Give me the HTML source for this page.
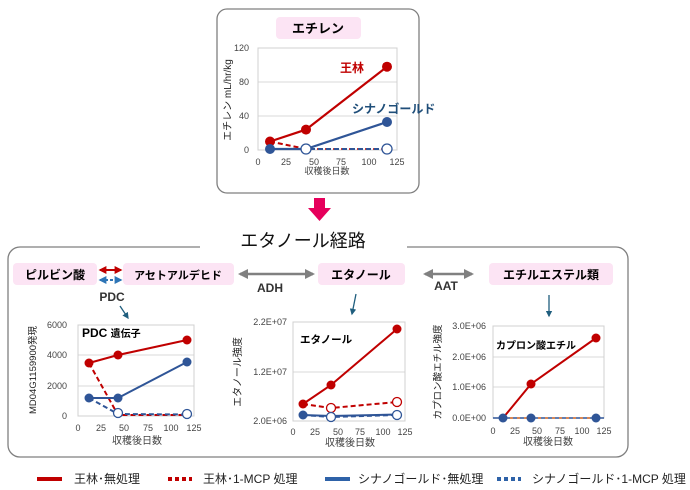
<!DOCTYPE html>
<html><head><meta charset="utf-8"><style>
body{margin:0;background:#fff}
svg{display:block;font-family:"Liberation Sans","Noto Sans CJK JP",sans-serif}
.t{font-size:9px;fill:#444}
.b{font-weight:bold}
</style></head><body>
<svg width="690" height="490" viewBox="0 0 690 490">
<defs>
<marker id="ga" viewBox="0 0 10 10" refX="8" refY="5" markerWidth="4" markerHeight="4" orient="auto-start-reverse"><path d="M0,0L10,5L0,10z" fill="#808080"/></marker>
<marker id="ra" viewBox="0 0 10 10" refX="8" refY="5" markerWidth="4" markerHeight="4" orient="auto-start-reverse"><path d="M0,0L10,5L0,10z" fill="#C00000"/></marker>
<marker id="ba" viewBox="0 0 10 10" refX="8" refY="5" markerWidth="4" markerHeight="4" orient="auto-start-reverse"><path d="M0,0L10,5L0,10z" fill="#2E75B6"/></marker>
<marker id="ta" viewBox="0 0 10 10" refX="8" refY="5" markerWidth="5" markerHeight="5" orient="auto"><path d="M0,0L10,5L0,10z" fill="#1F5E7E"/></marker>
</defs>

<rect x="217" y="9" width="202" height="184" rx="10" fill="#fff" stroke="#7f7f7f" stroke-width="1.3"/>
<rect x="276" y="17" width="85" height="22" rx="4" fill="#FCE4F4"/>
<text x="318" y="33" text-anchor="middle" font-size="13" class="b">エチレン</text>
<g stroke="#d9d9d9" stroke-width="1"><line x1="258" y1="82" x2="397" y2="82"/><line x1="258" y1="116" x2="397" y2="116"/></g>
<rect x="258" y="48" width="139" height="102" fill="none" stroke="#d0d0d0"/>
<g class="t" text-anchor="end"><text x="249" y="51">120</text><text x="249" y="85">80</text><text x="249" y="119">40</text><text x="249" y="153">0</text></g>
<g class="t" text-anchor="middle"><text x="258" y="165">0</text><text x="286" y="165">25</text><text x="314" y="165">50</text><text x="341" y="165">75</text><text x="369" y="165">100</text><text x="397" y="165">125</text>
<text x="327" y="174">収穫後日数</text></g>
<text transform="translate(231,100) rotate(-90)" text-anchor="middle" font-size="10" fill="#222">エチレン  mL/hr/kg</text>
<polyline points="270,141.5 306,149 387,149" fill="none" stroke="#C00000" stroke-width="2" stroke-dasharray="5,3"/>
<polyline points="270,149 306,149 387,149" fill="none" stroke="#2F5597" stroke-width="2" stroke-dasharray="5,3"/>
<polyline points="270,141.5 306,129.6 387,66.7" fill="none" stroke="#C00000" stroke-width="2.2"/>
<polyline points="270,149 306,149 387,122" fill="none" stroke="#2F5597" stroke-width="2.2"/>
<g fill="#C00000"><circle cx="270" cy="141.5" r="5"/><circle cx="306" cy="129.6" r="5"/><circle cx="387" cy="66.7" r="5"/></g>
<g fill="#2F5597"><circle cx="270" cy="149" r="5"/><circle cx="387" cy="122" r="5"/></g>
<g fill="#fff" stroke="#2F5597" stroke-width="1.3"><circle cx="306" cy="149" r="5"/><circle cx="387" cy="149" r="5"/></g>
<text x="340" y="72" font-size="12" class="b" fill="#C00000">王林</text>
<text x="352" y="113" font-size="12" class="b" fill="#1F4E79">シナノゴールド</text>

<path d="M314,198 h11 v10 h6 l-11.5,13 l-11.5,-13 h6z" fill="#E6005C"/>

<text x="303" y="247" text-anchor="middle" font-size="18" fill="#111">エタノール経路</text>
<path d="M200,247 H20 a12,12 0 0 0 -12,12 V445 a12,12 0 0 0 12,12 H616 a12,12 0 0 0 12,-12 V259 a12,12 0 0 0 -12,-12 H407" fill="none" stroke="#7f7f7f" stroke-width="1.3"/>

<rect x="13" y="263" width="84" height="22" rx="4" fill="#FCE4F4"/>
<text x="55" y="279" text-anchor="middle" font-size="12" class="b">ピルビン酸</text>
<rect x="123" y="263" width="111" height="22" rx="4" fill="#FCE4F4"/>
<text x="178" y="279" text-anchor="middle" font-size="11" class="b">アセトアルデヒド</text>
<rect x="318" y="263" width="87" height="22" rx="4" fill="#FCE4F4"/>
<text x="361" y="279" text-anchor="middle" font-size="12" class="b">エタノール</text>
<rect x="489" y="263" width="124" height="22" rx="4" fill="#FCE4F4"/>
<text x="551" y="279" text-anchor="middle" font-size="12" class="b">エチルエステル類</text>

<line x1="100" y1="270" x2="121" y2="270" stroke="#C00000" stroke-width="2" marker-start="url(#ra)" marker-end="url(#ra)"/>
<line x1="100" y1="280" x2="121" y2="280" stroke="#2E75B6" stroke-width="2" stroke-dasharray="3,2" marker-start="url(#ba)" marker-end="url(#ba)"/>
<text x="112" y="301" text-anchor="middle" font-size="12" class="b" fill="#333">PDC</text>
<line x1="120" y1="306" x2="128" y2="318" stroke="#1F5E7E" stroke-width="1.3" marker-end="url(#ta)"/>

<line x1="240" y1="274" x2="313" y2="274" stroke="#808080" stroke-width="2.5" marker-start="url(#ga)" marker-end="url(#ga)"/>
<text x="270" y="292" text-anchor="middle" font-size="12" class="b" fill="#333">ADH</text>
<line x1="425" y1="274" x2="472" y2="274" stroke="#808080" stroke-width="2.5" marker-start="url(#ga)" marker-end="url(#ga)"/>
<text x="446" y="290" text-anchor="middle" font-size="12" class="b" fill="#333">AAT</text>
<line x1="356" y1="294" x2="352" y2="314" stroke="#1F5E7E" stroke-width="1.3" marker-end="url(#ta)"/>
<line x1="549" y1="295" x2="549" y2="316" stroke="#1F5E7E" stroke-width="1.3" marker-end="url(#ta)"/>

<g stroke="#d9d9d9"><line x1="78" y1="386" x2="194" y2="386"/><line x1="78" y1="355" x2="194" y2="355"/></g>
<rect x="78" y="325" width="116" height="91" fill="none" stroke="#d0d0d0"/>
<g class="t" text-anchor="end"><text x="67" y="328">6000</text><text x="67" y="358">4000</text><text x="67" y="389">2000</text><text x="67" y="419">0</text></g>
<g class="t" text-anchor="middle"><text x="78" y="431">0</text><text x="101" y="431">25</text><text x="124" y="431">50</text><text x="148" y="431">75</text><text x="171" y="431">100</text><text x="194" y="431">125</text>
<text x="137" y="444" font-size="10">収穫後日数</text></g>
<text transform="translate(36,370) rotate(-90)" text-anchor="middle" font-size="9.5" fill="#222">MD04G1159900発現</text>
<text x="82" y="337" font-size="12" class="b">PDC <tspan font-size="10">遺伝子</tspan></text>
<polyline points="89,363 118,415 187,415" fill="none" stroke="#C00000" stroke-width="2" stroke-dasharray="5,3"/>
<polyline points="89,398 118,414 187,414.5" fill="none" stroke="#2F5597" stroke-width="2" stroke-dasharray="5,3"/>
<polyline points="89,363 118,355 187,340" fill="none" stroke="#C00000" stroke-width="2"/>
<polyline points="89,398 118,398 187,362" fill="none" stroke="#2F5597" stroke-width="2"/>
<g fill="#C00000"><circle cx="89" cy="363" r="4.5"/><circle cx="118" cy="355" r="4.5"/><circle cx="187" cy="340" r="4.5"/></g>
<g fill="#2F5597"><circle cx="89" cy="398" r="4.5"/><circle cx="118" cy="398" r="4.5"/><circle cx="187" cy="362" r="4.5"/></g>
<g fill="#fff" stroke="#2F5597" stroke-width="1.3"><circle cx="118" cy="413" r="4.5"/><circle cx="187" cy="414" r="4.5"/></g>

<line x1="293" y1="372" x2="405" y2="372" stroke="#d9d9d9"/>
<rect x="293" y="322" width="112" height="99" fill="none" stroke="#d0d0d0"/>
<g class="t" text-anchor="end"><text x="287" y="325">2.2E+07</text><text x="287" y="375">1.2E+07</text><text x="287" y="424">2.0E+06</text></g>
<g class="t" text-anchor="middle"><text x="293" y="435">0</text><text x="315" y="435">25</text><text x="338" y="435">50</text><text x="360" y="435">75</text><text x="383" y="435">100</text><text x="405" y="435">125</text>
<text x="350" y="446" font-size="10">収穫後日数</text></g>
<text transform="translate(241,372) rotate(-90)" text-anchor="middle" font-size="10" fill="#222">エタノール強度</text>
<text x="300" y="343" font-size="10.5" class="b">エタノール</text>
<polyline points="303,404 331,408 397,402" fill="none" stroke="#C00000" stroke-width="2" stroke-dasharray="5,3"/>
<polyline points="303,415 331,417 397,415" fill="none" stroke="#2F5597" stroke-width="2" stroke-dasharray="5,3"/>
<polyline points="303,404 331,385 397,329" fill="none" stroke="#C00000" stroke-width="2"/>
<polyline points="303,415 331,416 397,414.5" fill="none" stroke="#2F5597" stroke-width="2"/>
<g fill="#C00000"><circle cx="303" cy="404" r="4.5"/><circle cx="331" cy="385" r="4.5"/><circle cx="397" cy="329" r="4.5"/></g>
<circle cx="303" cy="415" r="4.5" fill="#2F5597"/>
<g fill="#fff" stroke="#C00000" stroke-width="1.3"><circle cx="331" cy="408" r="4.5"/><circle cx="397" cy="402" r="4.5"/></g>
<g fill="#fff" stroke="#2F5597" stroke-width="1.3"><circle cx="331" cy="417" r="4.5"/><circle cx="397" cy="415" r="4.5"/></g>

<g stroke="#d9d9d9"><line x1="493" y1="357" x2="604" y2="357"/><line x1="493" y1="387" x2="604" y2="387"/></g>
<rect x="493" y="326" width="111" height="92" fill="none" stroke="#d0d0d0"/>
<g class="t" text-anchor="end"><text x="486" y="329">3.0E+06</text><text x="486" y="360">2.0E+06</text><text x="486" y="390">1.0E+06</text><text x="486" y="421">0.0E+00</text></g>
<g class="t" text-anchor="middle"><text x="493" y="434">0</text><text x="515" y="434">25</text><text x="537" y="434">50</text><text x="560" y="434">75</text><text x="582" y="434">100</text><text x="604" y="434">125</text>
<text x="548" y="445" font-size="10">収穫後日数</text></g>
<text transform="translate(441,372) rotate(-90)" text-anchor="middle" font-size="9.5" fill="#222">カプロン酸エチル強度</text>
<text x="496" y="349" font-size="10" class="b">カプロン酸エチル</text>
<line x1="493" y1="418" x2="604" y2="418" stroke="#2F5597" stroke-width="1.5"/>
<line x1="503" y1="418" x2="596" y2="418" stroke="#ED7D31" stroke-width="1.5" stroke-dasharray="3,4"/>
<polyline points="503,418 531,384 596,338" fill="none" stroke="#C00000" stroke-width="2"/>
<g fill="#C00000"><circle cx="531" cy="384" r="4.5"/><circle cx="596" cy="338" r="4.5"/></g>
<g fill="#2F5597"><circle cx="503" cy="418" r="4.5"/><circle cx="531" cy="418" r="4.5"/><circle cx="596" cy="418" r="4.5"/></g>

<g font-size="12" fill="#222">
<line x1="37" y1="479" x2="62" y2="479" stroke="#C00000" stroke-width="4"/>
<text x="74" y="483">王林･無処理</text>
<line x1="168" y1="479" x2="192" y2="479" stroke="#C00000" stroke-width="4" stroke-dasharray="4,3"/>
<text x="203" y="483">王林･1-MCP 処理</text>
<line x1="325" y1="479" x2="350" y2="479" stroke="#2E62A8" stroke-width="4"/>
<text x="358" y="483">シナノゴールド･無処理</text>
<line x1="497" y1="479" x2="521" y2="479" stroke="#2E62A8" stroke-width="4" stroke-dasharray="4,3"/>
<text x="532" y="483">シナノゴールド･1-MCP 処理</text>
</g>
</svg>
</body></html>
